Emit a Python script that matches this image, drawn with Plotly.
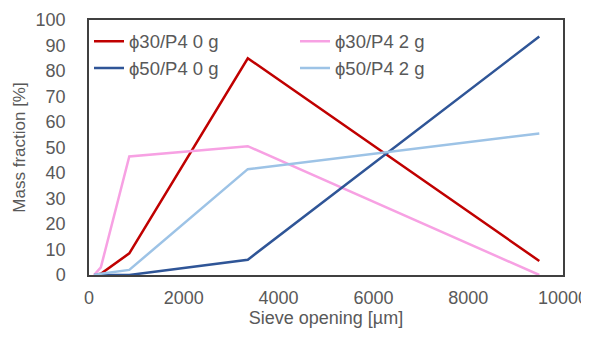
import plotly.graph_objects as go

sieve = [106, 250, 850, 3350, 9500]
names = ["ϕ30/P4 0 g", "ϕ30/P4 2 g", "ϕ50/P4 0 g", "ϕ50/P4 2 g"]
phi30_0g = [0, 0.5, 8.5, 85, 5.5]
phi30_2g = [0, 3, 46.5, 50.5, 0]
phi50_0g = [0, 0, 0, 6, 93.5]
phi50_2g = [0, 0.5, 2, 41.5, 55.5]
colors = ["#C00000", "#F7A1E3", "#2F5597", "#9DC3E6"]
legend_ids = ["legend", "legend", "legend2", "legend2"]
x_ticks = [0, 2000, 4000, 6000, 8000, 10000]
y_ticks = list(range(0, 101, 10))

fig = go.Figure()
for n, ys, c, lg in zip(names, [phi30_0g, phi30_2g, phi50_0g, phi50_2g], colors, legend_ids):
    fig.add_trace(go.Scatter(x=sieve, y=ys, name=n, mode="lines", legend=lg,
                             line=dict(color=c, width=2.5)))

font = "Liberation Sans, Arial, sans-serif"
leg_common = dict(orientation="h", xanchor="left", yanchor="middle",
                  entrywidth=161, entrywidthmode="pixels",
                  font=dict(size=18.5, color="#595959"), bgcolor="rgba(0,0,0,0)",
                  itemwidth=30)
fig.update_layout(
    width=581, height=337,
    margin=dict(l=81, r=26, t=12, b=70),
    paper_bgcolor="white", plot_bgcolor="white",
    font=dict(family=font, size=18, color="#595959"),
    showlegend=True,
    legend=dict(x=0.0, y=0.915, **leg_common),
    legend2=dict(x=0.0, y=0.81, **leg_common),
    xaxis=dict(range=[0, 10000], tickvals=x_ticks, ticktext=[str(v) for v in x_ticks],
               showgrid=False, zeroline=False, showline=True, linecolor="#404040",
               linewidth=1.5, mirror=True, ticks="", automargin=False,
               ticklabelstandoff=6, tickfont=dict(size=18),
               title=dict(text="Sieve opening [µm]", standoff=4, font=dict(size=18))),
    yaxis=dict(range=[0, 100], tickvals=y_ticks,
               showgrid=False, zeroline=False, showline=True, linecolor="#404040",
               linewidth=1.5, mirror=True, ticks="", automargin=False,
               ticklabelstandoff=18, tickfont=dict(size=18),
               title=dict(text="Mass fraction [%]", standoff=6, font=dict(size=17))),
)
fig.write_html("out.html")
